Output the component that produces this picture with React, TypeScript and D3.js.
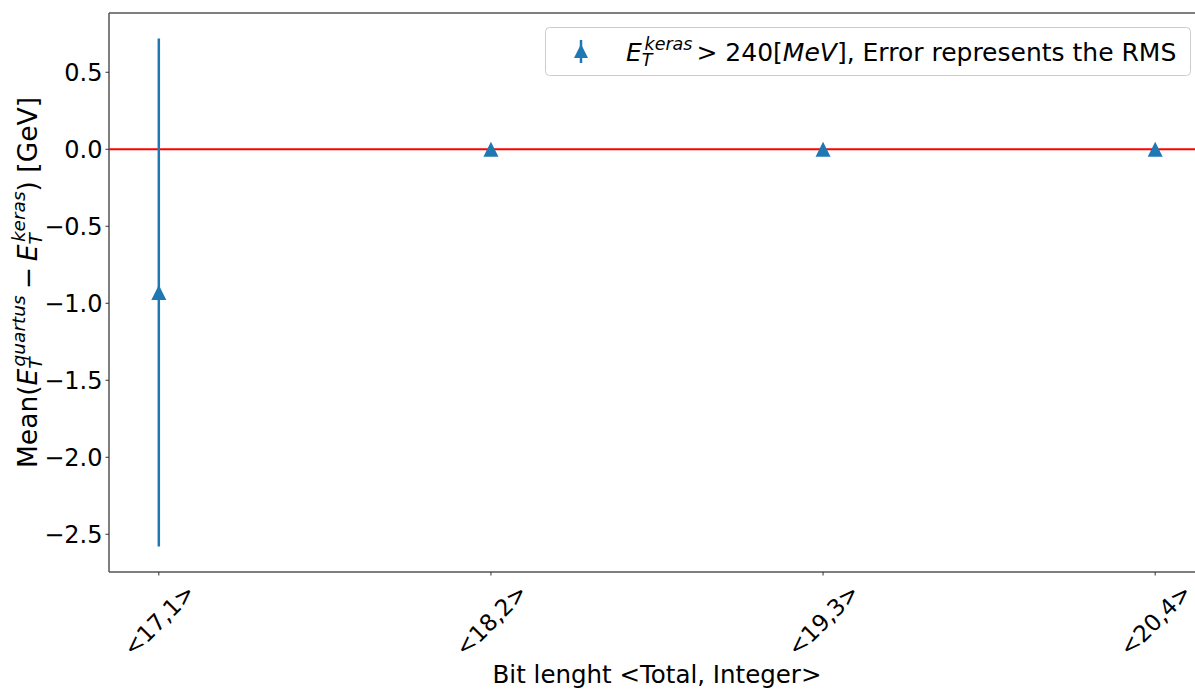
import React from 'react';
import * as d3 from 'd3';

const categories = ['<17,1>', '<18,2>', '<19,3>', '<20,4>'];
const means = [-0.93, 0.0, 0.0, 0.0];
const rmsValues = [1.65, 0.0, 0.0, 0.0];
const yTicks = [0.5, 0.0, -0.5, -1.0, -1.5, -2.0, -2.5];

const W = 1195;
const H = 689;
const M = { left: 109, top: 13, right: 1205, bottom: 572 };
const BLUE = '#1f77b4';
const FONT = '"DejaVu Sans", sans-serif';

function tri(cx: number, cy: number, h: number) {
  return `M${cx},${cy - h}L${cx - h},${cy + h}L${cx + h},${cy + h}Z`;
}

export default function App() {
  const x = d3.scaleLinear().domain([-0.15, categories.length - 1 + 0.15]).range([M.left, M.right]);
  const lo = d3.min(means.map((m, i) => m - rmsValues[i])) as number;
  const hi = d3.max(means.map((m, i) => m + rmsValues[i])) as number;
  const pad = (hi - lo) * 0.05;
  const y = d3.scaleLinear().domain([lo - pad, hi + pad]).range([M.bottom, M.top]);
  const fmt = (v: number) => (v < 0 ? '\u2212' : '') + Math.abs(v).toFixed(1);

  return (
    <svg width={W} height={H} style={{ position: 'absolute', left: 0, top: 0, background: '#fff' }} fontFamily={FONT}>
      <defs>
        <clipPath id="plotclip">
          <rect x={M.left} y={M.top} width={M.right - M.left} height={M.bottom - M.top} />
        </clipPath>
      </defs>
      <rect x={0} y={0} width={W} height={H} fill="#fff" />
      {/* zero line */}
      <line x1={M.left} x2={M.right} y1={y(0)} y2={y(0)} stroke="red" strokeWidth={2} />
      {/* error bars and markers */}
      <g clipPath="url(#plotclip)">
        {means.map((m, i) => (
          <g key={i}>
            <line x1={x(i)} x2={x(i)} y1={y(m - rmsValues[i])} y2={y(m + rmsValues[i])} stroke={BLUE} strokeWidth={2.5} />
            <path d={tri(x(i), y(m), 7.5)} fill={BLUE} />
          </g>
        ))}
      </g>
      {/* spines */}
      <g stroke="#555" strokeWidth={1.5} fill="none">
        <line x1={M.left} x2={M.left} y1={M.top} y2={M.bottom} />
        <line x1={M.left} x2={M.right} y1={M.bottom} y2={M.bottom} />
        <line x1={M.left} x2={M.right} y1={M.top} y2={M.top} />
        <line x1={M.right} x2={M.right} y1={M.top} y2={M.bottom} />
      </g>
      {/* y ticks */}
      {yTicks.map((t) => (
        <g key={t}>
          <line x1={M.left - 3.5} x2={M.left} y1={y(t)} y2={y(t)} stroke="#333" strokeWidth={1} />
          <text x={M.left - 6.5} y={y(t)} dy="0.36em" textAnchor="end" fontSize={24} fill="#000">
            {fmt(t)}
          </text>
        </g>
      ))}
      {/* x ticks */}
      {categories.map((c, i) => (
        <g key={c}>
          <line x1={x(i)} x2={x(i)} y1={M.bottom} y2={M.bottom + 3.5} stroke="#333" strokeWidth={1} />
          <text
            transform={`translate(${x(i)},${620}) rotate(-45)`}
            textAnchor="middle"
            dy="0.36em"
            fontSize={23}
            fill="#000"
          >
            {c}
          </text>
        </g>
      ))}
      {/* x label */}
      <text x={(M.left + M.right) / 2} y={683} textAnchor="middle" fontSize={24.5} fill="#000">
        Bit lenght &lt;Total, Integer&gt;
      </text>
      {/* y label */}
      <g transform={`translate(${37},${(M.top + M.bottom) / 2 - 10}) rotate(-90)`}>
        <text textAnchor="middle" fontSize={26.5} fill="#000">
          <tspan>Mean(</tspan>
          <tspan fontStyle="italic">E</tspan>
          <tspan fontStyle="italic" fontSize={18.5} dy={5}>T</tspan>
          <tspan fontStyle="italic" fontSize={18.5} dx={-9} dy={-17}>quartus</tspan>
          <tspan dy={12} dx={6}>{'\u2212'}</tspan>
          <tspan fontStyle="italic" dx={6}>E</tspan>
          <tspan fontStyle="italic" fontSize={18.5} dy={5}>T</tspan>
          <tspan fontStyle="italic" fontSize={18.5} dx={-9} dy={-17}>keras</tspan>
          <tspan dy={12}>) [GeV]</tspan>
        </text>
      </g>
      {/* legend */}
      <g>
        <rect x={545.5} y={27.5} width={645} height={48} rx={4} ry={4} fill="#fff" fillOpacity={0.8} stroke="#ccc" strokeWidth={1} />
        <line x1={581} x2={581} y1={40} y2={63} stroke={BLUE} strokeWidth={2.5} />
        <path d={tri(581, 51, 7)} fill={BLUE} />
        <text x={626} y={61} fontSize={25} fill="#000">
          <tspan fontStyle="italic">E</tspan>
          <tspan fontStyle="italic" fontSize={17.5} dy={5}>T</tspan>
          <tspan fontStyle="italic" fontSize={17.5} dx={-8} dy={-16}>keras</tspan>
          <tspan dy={11} dx={4}>{'> 240['}</tspan>
          <tspan fontStyle="italic">MeV</tspan>
          <tspan>], Error represents the RMS</tspan>
        </text>
      </g>
    </svg>
  );
}
